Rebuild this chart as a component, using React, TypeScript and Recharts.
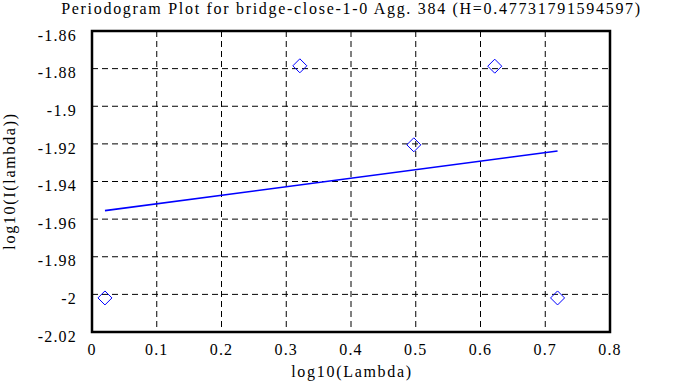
import React from 'react';
import { ScatterChart, Scatter, XAxis, YAxis, CartesianGrid, ReferenceArea, Label } from 'recharts';

const lambdaX = [0.020, 0.321, 0.497, 0.622, 0.719];
const periodY = [-2.0019, -1.8785, -1.9205, -1.8787, -2.0019];
const fitX = [0.020, 0.719];
const fitY = [-1.9555, -1.9238];
const xTicks = [0, 0.1, 0.2, 0.3, 0.4, 0.5, 0.6, 0.7, 0.8];
const yTicks = [-2.02, -2, -1.98, -1.96, -1.94, -1.92, -1.9, -1.88, -1.86];
const title = 'Periodogram Plot for bridge-close-1-0 Agg. 384 (H=0.47731791594597)';

const points = lambdaX.map((x, i) => ({ x, y: periodY[i] }));
const fit = fitX.map((x, i) => ({ x, y: fitY[i] }));

const FONT = '"Liberation Serif", "Times New Roman", serif';
const fmt = (v: number) => String(+v.toFixed(2));

const Diamond = (props: any) => {
  const { cx, cy } = props;
  const r = 7;
  return (
    <polygon
      points={`${cx},${cy - r} ${cx + r},${cy} ${cx},${cy + r} ${cx - r},${cy}`}
      fill="none"
      stroke="#0000ff"
      strokeWidth={1}
    />
  );
};

const Empty = () => <g />;

export default function App() {
  return (
    <div style={{ position: 'absolute', left: 0, top: 0, width: 693, height: 387, background: '#fff' }}>
      <div
        style={{
          position: 'absolute',
          left: 0,
          top: 0,
          width: 693,
          textAlign: 'center',
          fontFamily: FONT,
          fontSize: 16,
          lineHeight: '17px',
          letterSpacing: '1.7px',
          color: '#000',
          paddingLeft: 10,
          boxSizing: 'border-box',
          whiteSpace: 'nowrap',
        }}
      >
        {title}
      </div>
      <ScatterChart width={693} height={387} margin={{ top: 31, right: 83, bottom: 0, left: 0 }}>
        <CartesianGrid stroke="#000" strokeDasharray="6 4" strokeWidth={1} />
        <XAxis
          type="number"
          dataKey="x"
          domain={[0, 0.8]}
          ticks={xTicks}
          tickFormatter={fmt}
          height={55}
          axisLine={false}
          tickLine={false}
          tickMargin={6}
          tick={{ fill: '#000', fontFamily: FONT, fontSize: 16, letterSpacing: 1.2 }}
          allowDataOverflow
        >
          <Label
            content={() => (
              <text x={352} y={377} textAnchor="middle" fontFamily={FONT} fontSize={16} letterSpacing={1.7} fill="#000">
                log10(Lambda)
              </text>
            )}
          />
        </XAxis>
        <YAxis
          type="number"
          dataKey="y"
          domain={[-2.02, -1.86]}
          ticks={yTicks}
          tickFormatter={fmt}
          width={92}
          axisLine={false}
          tickLine={false}
          tickMargin={9}
          tick={{ fill: '#000', fontFamily: FONT, fontSize: 16, letterSpacing: 1.2, dy: 4 }}
          allowDataOverflow
        >
          <Label
            content={() => (
              <text
                x={15}
                y={181}
                transform="rotate(-90 15 181)"
                textAnchor="middle"
                fontFamily={FONT}
                fontSize={16}
                letterSpacing={1.7}
                fill="#000"
              >
                log10(I(lambda))
              </text>
            )}
          />
        </YAxis>
        <ReferenceArea x1={0} x2={0.8} y1={-2.02} y2={-1.86} fill="none" stroke="#000" strokeWidth={2.5} ifOverflow="visible" />
        <Scatter
          data={fit}
          line={{ stroke: '#0000ff', strokeWidth: 1.6 }}
          lineType="joint"
          shape={<Empty />}
          isAnimationActive={false}
        />
        <Scatter data={points} shape={<Diamond />} isAnimationActive={false} />
      </ScatterChart>
    </div>
  );
}
